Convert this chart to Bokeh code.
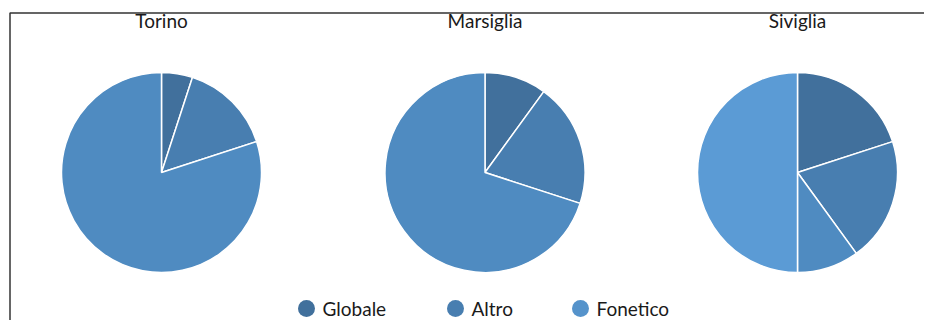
import math
from bokeh.plotting import figure
from bokeh.models import Range1d, ColumnDataSource
from bokeh.core.properties import value
from bokeh.embed import file_html
from bokeh.resources import INLINE

# ---- data ----
cities = ["Torino", "Marsiglia", "Siviglia"]
legend_labels = ["Globale", "Altro", "Fonetico"]
torino = [5, 15, 80]
marsiglia = [10, 20, 70]
siviglia = [20, 20, 10, 50]
series = [torino, marsiglia, siviglia]

colors = ["#41709c", "#487eb0", "#4f8bc1", "#5b9bd5"]
legend_colors = ["#41709c", "#487eb0", "#5593cb"]

W, H = 924, 320
p = figure(width=W, height=H, output_backend="svg", toolbar_location=None,
           x_range=Range1d(0, W), y_range=Range1d(0, H), min_border=0,
           outline_line_color=None, background_fill_color="white",
           border_fill_color="white")
p.axis.visible = False
p.grid.visible = False

def py(top_y):
    # convert a top-down layout position into the figure's y scale
    return H - top_y

centers_x = [161, 484.5, 797]
center_y = 172
R = 100

font = value("Lato")
for city, vals, cx in zip(cities, series, centers_x):
    total = float(sum(vals))
    cum = 0.0
    starts, ends = [], []
    for v in vals:
        cs = cum / total
        cum += v
        ce = cum / total
        starts.append(math.pi / 2 - 2 * math.pi * ce)
        ends.append(math.pi / 2 - 2 * math.pi * cs)
    cols = colors[:len(vals)]
    src = ColumnDataSource(dict(x=[cx] * len(vals), y=[py(center_y)] * len(vals),
                                s=starts, e=ends, c=cols))
    p.wedge(x="x", y="y", radius=R, radius_units="screen", start_angle="s",
            end_angle="e", fill_color="c", line_color="white", line_width=1.5,
            source=src)
    p.text(x=[cx], y=[py(20)], text=[city], text_font=font,
           text_font_size="19px", text_color="#1a1a1a", text_align="center",
           text_baseline="middle")

# legend
leg_x = [306, 455, 580]
leg_y = 308
p.scatter(x=leg_x, y=[py(leg_y)] * 3, size=17,
          fill_color=legend_colors, line_color=None, marker="circle")
p.text(x=[v + 16 for v in leg_x], y=[py(leg_y)] * 3, text=legend_labels,
       text_font=font, text_font_size="19px", text_color="#1a1a1a",
       text_align="left", text_baseline="middle")

# frame border
p.line(x=[9.5, 9.5, W], y=[0, py(12.5), py(12.5)], line_color="#333333",
       line_width=1.5)

open("out.html", "w").write(file_html(p, INLINE))
